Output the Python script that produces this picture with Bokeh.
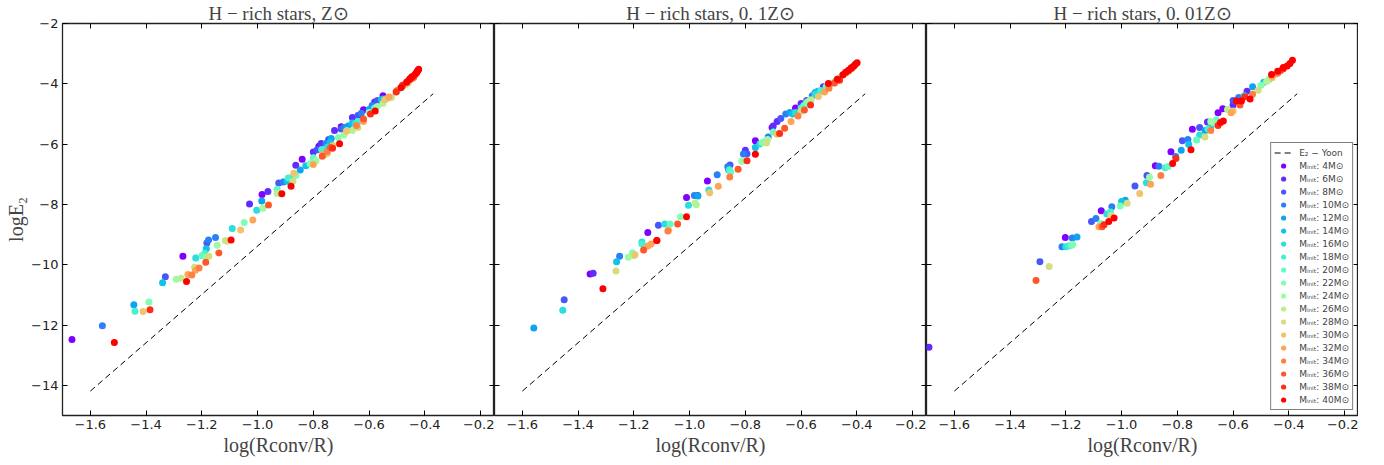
from bokeh.plotting import figure
from bokeh.layouts import row
from bokeh.models import (Range1d, LinearAxis, FixedTicker, CustomJSTickFormatter,
                          Legend, LegendItem)
from bokeh.embed import file_html
from bokeh.resources import INLINE

# ---------------- data ----------------
masses = [4, 6, 8, 10, 12, 14, 16, 18, 20, 22, 24, 26, 28, 30, 32, 34, 36, 38, 40]
colors = ["#8000ff", "#632cfe", "#4757fb", "#2b80f6", "#0ea4f0", "#0ec3e7", "#2bdddd",
          "#47f0d1", "#63fbc3", "#80ffb4", "#9cfba4", "#b8f092", "#d5dd80", "#f1c36c",
          "#ffa457", "#ff8042", "#ff572c", "#ff2c16", "#ff0000"]

x_ticks = [-1.6, -1.4, -1.2, -1.0, -0.8, -0.6, -0.4, -0.2]
y_ticks = [-14, -12, -10, -8, -6, -4, -2]

titles = ["H − rich stars, Z⊙", "H − rich stars, 0. 1Z⊙", "H − rich stars, 0. 01Z⊙"]
x_label = "log(Rconv/R)"
y_label = "logE₂"

yoon_x = [-1.6, -0.37]
yoon_y = [-14.19, -4.33]

# Panel 1: solar metallicity  (one inner list per initial mass)
z1_x = [
    [-1.666, -1.268, -0.984, -0.840, -0.780, -0.700, -0.620, -0.550],
    [-1.029, -0.963, -0.863, -0.800, -0.772, -0.724, -0.660, -0.580],
    [-1.331, -1.182, -0.924, -0.786, -0.745, -0.700, -0.640, -0.570],
    [-1.557, -1.151, -1.176, -0.908, -0.755, -0.690, -0.628, -0.589],
    [-1.444, -0.985, -0.847, -0.736, -0.675, -0.600, -0.550],
    [-1.341, -1.184, -0.894, -0.827, -0.740, -0.660, -0.556],
    [-1.222, -1.091, -1.003, -0.875, -0.750, -0.650, -0.540],
    [-1.440, -1.190, -0.890, -0.770, -0.640, -0.530],
    [-1.200, -0.930, -0.800, -0.680, -0.580, -0.500],
    [-1.390, -1.185, -1.048, -0.862, -0.812, -0.710, -0.600, -0.490],
    [-1.292, -1.145, -0.981, -0.790, -0.690, -0.570, -0.480],
    [-1.274, -1.116, -0.930, -0.760, -0.660, -0.550, -0.470],
    [-1.226, -1.175, -1.110, -0.873, -0.750, -0.640, -0.520, -0.460],
    [-1.411, -1.061, -0.870, -0.730, -0.681, -0.544, -0.470],
    [-1.250, -1.223, -1.017, -0.800, -0.766, -0.620, -0.529, -0.455],
    [-1.236, -1.210, -0.750, -0.645, -0.500, -0.445],
    [-1.186, -1.139, -0.961, -0.768, -0.738, -0.620, -0.463, -0.440],
    [-1.386, -0.731, -0.595, -0.503, -0.480, -0.450, -0.430],
    [-1.514, -1.255, -1.095, -0.913, -0.880, -0.706, -0.578, -0.485, -0.465, -0.455,
     -0.445, -0.435, -0.428, -0.425, -0.422],
]
z1_y = [
    [-12.48, -9.72, -7.67, -6.50, -6.07, -5.42, -4.86, -4.40],
    [-7.99, -7.57, -6.70, -6.26, -5.98, -5.55, -5.12, -4.60],
    [-10.40, -9.28, -7.29, -6.19, -5.85, -5.50, -5.05, -4.55],
    [-12.02, -9.10, -9.18, -7.26, -5.98, -5.45, -4.98, -4.72],
    [-11.33, -7.89, -6.86, -5.81, -5.40, -4.85, -4.50],
    [-10.60, -9.47, -7.23, -6.72, -5.95, -5.30, -4.52],
    [-9.78, -8.80, -8.19, -7.10, -6.10, -5.32, -4.50],
    [-11.54, -9.62, -7.12, -6.18, -5.25, -4.45],
    [-9.70, -7.50, -6.45, -5.55, -4.80, -4.25],
    [-11.24, -9.75, -8.60, -7.04, -6.65, -5.78, -4.95, -4.15],
    [-10.48, -9.35, -8.13, -6.55, -5.70, -4.75, -4.10],
    [-10.45, -9.20, -7.64, -6.35, -5.55, -4.65, -4.05],
    [-10.08, -9.72, -9.22, -7.23, -6.32, -5.45, -4.45, -3.98],
    [-11.55, -8.85, -6.97, -6.05, -5.57, -4.53, -4.00],
    [-10.32, -10.18, -8.52, -6.68, -6.35, -5.25, -4.44, -3.88],
    [-10.34, -10.11, -6.25, -5.38, -4.22, -3.82],
    [-9.92, -9.61, -8.02, -6.40, -6.11, -5.17, -3.92, -3.78],
    [-11.49, -6.14, -5.00, -4.27, -4.05, -3.80, -3.64],
    [-12.58, -10.56, -9.18, -7.65, -7.40, -5.99, -4.90, -4.12, -3.95, -3.85,
     -3.76, -3.68, -3.60, -3.56, -3.52],
]

# Panel 2: 0.1 Z_sun
z2_x = [
    [-1.357, -1.150, -1.011, -0.936, -0.764, -0.704, -0.620],
    [-1.346, -0.800, -0.700, -0.686, -0.600, -0.520],
    [-1.450, -1.112, -0.971, -0.855, -0.794, -0.673, -0.580],
    [-1.251, -0.983, -0.901, -0.863, -0.807, -0.718, -0.655, -0.560],
    [-1.559, -0.970, -0.860, -0.640, -0.550],
    [-1.262, -0.764, -0.630, -0.540],
    [-1.455, -1.171, -1.089, -1.004, -0.931, -0.748, -0.620, -0.550],
    [-1.171, -0.857, -0.732, -0.600, -0.530],
    [-1.070, -0.853, -0.700, -0.590, -0.510],
    [-1.205, -1.033, -0.740, -0.580, -0.490],
    [-1.220, -0.976, -0.813, -0.720, -0.570, -0.480],
    [-1.200, -0.980, -0.564, -0.470],
    [-1.264, -0.724, -0.600, -0.460],
    [-1.196, -1.075, -0.928, -0.687, -0.538, -0.450],
    [-1.150, -1.138, -0.897, -0.636, -0.516, -0.440],
    [-1.078, -0.856, -0.611, -0.500, -0.430],
    [-1.165, -1.043, -0.826, -0.659, -0.588, -0.480, -0.420],
    [-1.117, -0.794, -0.677, -0.566, -0.462, -0.415],
    [-1.311, -1.118, -1.011, -0.764, -0.502, -0.470, -0.450, -0.440, -0.430, -0.420,
     -0.410, -0.405, -0.399],
]
z2_y = [
    [-10.31, -8.93, -7.77, -7.22, -5.89, -5.45, -4.80],
    [-10.28, -6.20, -5.40, -5.25, -4.65, -4.10],
    [-11.16, -8.69, -7.70, -6.69, -6.32, -5.15, -4.55],
    [-9.72, -7.70, -7.02, -6.75, -6.33, -5.76, -5.00, -4.40],
    [-12.10, -7.72, -6.85, -4.95, -4.30],
    [-9.90, -6.11, -5.00, -4.25],
    [-11.51, -9.25, -8.65, -8.03, -7.52, -6.00, -4.95, -4.35],
    [-9.31, -6.85, -5.93, -4.80, -4.22],
    [-8.65, -6.92, -5.60, -4.72, -4.10],
    [-9.60, -8.41, -5.95, -4.62, -4.00],
    [-9.75, -8.01, -6.57, -5.85, -4.55, -3.92],
    [-9.70, -7.95, -4.53, -3.85],
    [-10.21, -5.96, -4.90, -3.78],
    [-9.67, -8.86, -7.61, -5.67, -4.42, -3.72],
    [-9.38, -9.31, -7.40, -5.25, -4.27, -3.65],
    [-8.88, -7.09, -5.07, -4.15, -3.58],
    [-9.51, -8.65, -6.83, -5.47, -4.87, -3.97, -3.50],
    [-9.20, -6.55, -5.65, -4.70, -3.88, -3.45],
    [-10.80, -9.20, -8.41, -6.34, -3.99, -3.85, -3.70, -3.62, -3.55, -3.47,
     -3.40, -3.35, -3.30],
]

# Panel 3: 0.01 Z_sun
z3_x = [
    [-1.202, -1.073, -0.879, -0.823, -0.746, -0.654, -0.637],
    [-1.691, -0.692, -0.600, -0.550],
    [-1.293, -1.108, -0.952, -0.909, -0.782, -0.720, -0.600],
    [-1.214, -1.177, -1.092, -1.035, -0.866, -0.806, -0.762, -0.580],
    [-1.160, -0.987, -0.786, -0.700, -0.530],
    [-1.000, -0.759, -0.680, -0.490],
    [-1.200, -1.053, -0.911, -0.720, -0.560],
    [-1.190, -1.040, -0.844, -0.690],
    [-1.180, -0.833, -0.731, -0.660, -0.470],
    [-1.175, -1.075, -1.005, -0.670, -0.500],
    [-0.900, -0.680, -0.450],
    [-0.620, -0.480],
    [-1.260, -1.038, -0.980, -0.701, -0.510],
    [-0.935, -0.600, -0.460],
    [-1.081, -0.896, -0.607, -0.460],
    [-0.859, -0.680, -0.530, -0.440],
    [-1.307, -1.070, -0.575, -0.430],
    [-1.063, -0.805, -0.654, -0.558, -0.420],
    [-1.046, -1.027, -0.817, -0.751, -0.645, -0.635, -0.588, -0.570, -0.539, -0.462,
     -0.440, -0.420, -0.406, -0.396, -0.387],
]
z3_y = [
    [-9.10, -8.21, -6.72, -6.25, -5.51, -4.96, -4.83],
    [-12.74, -5.27, -4.70, -4.25],
    [-9.90, -8.57, -7.39, -7.04, -5.89, -5.45, -4.55],
    [-9.40, -9.11, -8.47, -8.08, -6.73, -6.41, -5.85, -4.45],
    [-9.08, -7.86, -6.20, -5.55, -4.10],
    [-7.90, -6.01, -5.40, -3.95],
    [-9.40, -8.32, -7.28, -5.70, -4.40],
    [-9.38, -8.25, -6.78, -5.50],
    [-9.35, -6.74, -5.86, -5.20, -3.85],
    [-9.32, -8.63, -8.05, -5.30, -4.05],
    [-7.10, -5.25, -3.70],
    [-4.85, -3.92],
    [-10.06, -8.37, -7.96, -5.76, -4.21],
    [-7.64, -4.90, -3.80],
    [-8.74, -7.33, -4.96, -3.75],
    [-7.04, -5.55, -4.35, -3.65],
    [-10.52, -8.74, -4.70, -3.57],
    [-8.67, -6.48, -5.38, -4.43, -3.50],
    [-8.57, -8.45, -6.64, -6.19, -5.28, -5.23, -4.57, -4.57, -4.50, -3.69,
     -3.58, -3.46, -3.41, -3.33, -3.22],
]

panels_x = [z1_x, z2_x, z3_x]
panels_y = [z1_y, z2_y, z3_y]

# ---------------- styling helpers ----------------
TICK_FONT = "DejaVu Sans"
SERIF = "Liberation Serif"

fmt_x = CustomJSTickFormatter(code="return tick.toFixed(1).replace('-', '\u2212');")
fmt_y = CustomJSTickFormatter(code="return tick.toFixed(0).replace('-', '\u2212');")


def style_axis(ax, show_labels, ticks, fmt):
    ax.ticker = FixedTicker(ticks=ticks)
    ax.formatter = fmt
    ax.axis_line_color = None
    ax.major_tick_in = 5
    ax.major_tick_out = 0
    ax.minor_tick_in = 0
    ax.minor_tick_out = 0
    ax.major_tick_line_color = "black"
    ax.major_tick_line_width = 1
    if show_labels:
        ax.major_label_text_font = TICK_FONT
        ax.major_label_text_font_size = "13px"
        ax.major_label_text_color = "#222222"
        ax.major_label_standoff = 4
    else:
        # ticks only, labels not painted
        ax.major_label_text_font_size = "0px"
        ax.major_label_text_color = None
        ax.major_label_standoff = 0


figs = []
for i in range(3):
    first = (i == 0)
    p = figure(frame_width=432, frame_height=392,
               x_range=Range1d(-1.7, -0.15), y_range=Range1d(-15, -2),
               output_backend="svg", toolbar_location=None,
               min_border_left=62 if first else 0, min_border_right=0,
               min_border_top=21, min_border_bottom=0)
    p.grid.visible = False
    p.outline_line_color = "#222222"
    p.outline_line_width = 1.3
    p.background_fill_color = "white"
    p.border_fill_color = "white"

    # bottom axis
    xa = p.xaxis[0]
    style_axis(xa, True, x_ticks, fmt_x)
    xa.axis_label = x_label
    xa.axis_label_text_font = SERIF
    xa.axis_label_text_font_size = "20px"
    xa.axis_label_text_font_style = "normal"
    xa.axis_label_standoff = 2

    # left axis
    ya = p.yaxis[0]
    style_axis(ya, first, y_ticks, fmt_y)
    if first:
        ya.axis_label = y_label
        ya.axis_label_text_font = SERIF
        ya.axis_label_text_font_size = "20px"
        ya.axis_label_text_font_style = "normal"
        ya.axis_label_standoff = 1

    # top and right axes: inward ticks only
    top = LinearAxis()
    style_axis(top, False, x_ticks, fmt_x)
    p.add_layout(top, "above")
    right = LinearAxis()
    style_axis(right, False, y_ticks, fmt_y)
    p.add_layout(right, "right")

    p.title.text = titles[i]
    p.title.align = "center"
    p.title.text_font = SERIF
    p.title.text_font_size = "19px"
    p.title.text_font_style = "normal"
    p.title.text_line_height = 1.0
    p.title.standoff = 0

    line = p.line(yoon_x, yoon_y, line_color="black", line_width=1, line_dash="6 4")

    items = [LegendItem(label="E₂ − Yoon", renderers=[line])]
    for k, m in enumerate(masses):
        r = p.scatter(panels_x[i][k], panels_y[i][k], size=7, marker="circle",
                      fill_color=colors[k], line_color=None)
        items.append(LegendItem(label=f"Mᵢₙᵢₜ: {m}M⊙", renderers=[r]))

    if i == 2:
        legend = Legend(items=items, location="bottom_right")
        legend.margin = 5
        legend.padding = 3
        legend.spacing = 0
        legend.label_height = 13
        legend.glyph_height = 13
        legend.glyph_width = 18
        legend.label_standoff = 7
        legend.label_text_font = TICK_FONT
        legend.label_text_font_size = "9px"
        legend.border_line_color = "black"
        legend.border_line_width = 1.5
        legend.background_fill_alpha = 1.0
        p.add_layout(legend)
    figs.append(p)

layout = row(*figs)
open("out.html", "w").write(file_html(layout, INLINE))
